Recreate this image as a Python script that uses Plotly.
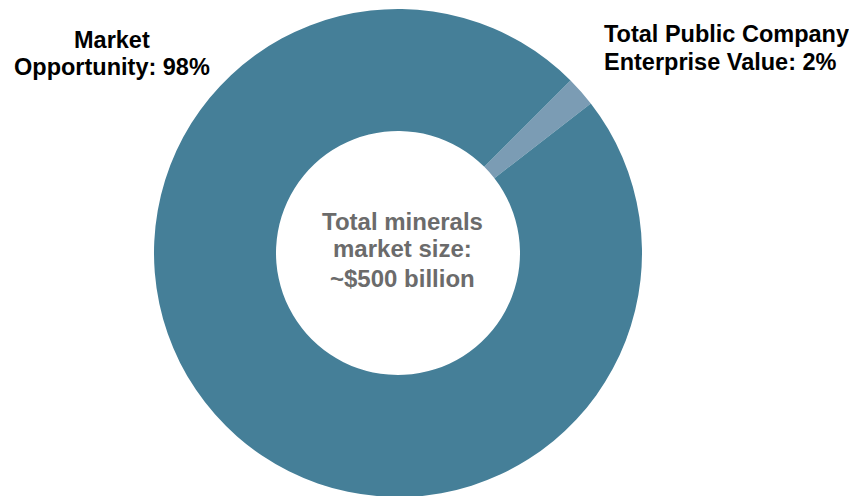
import plotly.graph_objects as go

labels = ["Total Public Company Enterprise Value", "Market Opportunity"]
values = [2, 98]
colors = ["#7b9cb4", "#457f98"]

center_lines = ["Total minerals", "market size:", "~$500 billion"]
left_lines = ["Market", "Opportunity: 98%"]
right_lines = ["Total Public Company", "Enterprise Value: 2%"]

W, H = 857, 496
fig = go.Figure(go.Pie(
    labels=labels, values=values, hole=0.5, sort=False,
    direction="clockwise", rotation=45,
    marker=dict(colors=colors, line=dict(width=0)),
    textinfo="none", hoverinfo="label+percent",
    domain=dict(x=[146 / W, 634 / W], y=[7 / H, 495 / H]),
    showlegend=False,
))

FONT = "Liberation Sans, Arial, sans-serif"
ann = []
for t, cy in zip(center_lines, [213, 241, 270]):
    ann.append(dict(x=394 / W, y=1 - cy / H, xref="paper", yref="paper",
                    text="<b>%s</b>" % t, showarrow=False, xanchor="center", yanchor="middle",
                    font=dict(family=FONT, size=24, color="#6b6b6b")))
for t, cy in zip(left_lines, [32, 59]):
    ann.append(dict(x=104 / W, y=1 - cy / H, xref="paper", yref="paper",
                    text="<b>%s</b>" % t, showarrow=False, xanchor="center", yanchor="middle",
                    font=dict(family=FONT, size=23.5, color="#000000")))
for t, cy in zip(right_lines, [26, 54]):
    ann.append(dict(x=594 / W, y=1 - cy / H, xref="paper", yref="paper",
                    text="<b>%s</b>" % t, showarrow=False, xanchor="left", yanchor="middle",
                    font=dict(family=FONT, size=23.5, color="#000000")))

fig.update_layout(
    width=W, height=H, margin=dict(l=0, r=0, t=0, b=0),
    paper_bgcolor="white", plot_bgcolor="white",
    annotations=ann,
)
fig.write_html("out.html")
